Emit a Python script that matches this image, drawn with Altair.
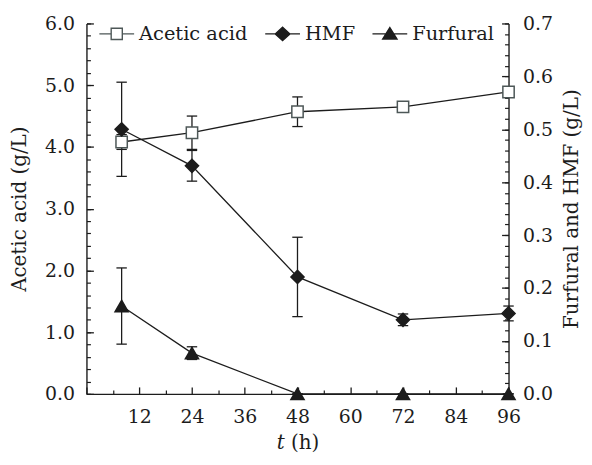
import altair as alt
import pandas as pd

# ---------------- data ----------------
t_hours = [8, 24, 48, 72, 96]
acetic = [4.08, 4.23, 4.57, 4.65, 4.89]
acetic_err = [0.12, 0.27, 0.24, 0.05, 0.05]
hmf = [0.500, 0.431, 0.221, 0.140, 0.152]
hmf_err = [0.089, 0.029, 0.075, 0.011, 0.014]
furfural = [0.166, 0.077, 0.0, 0.0, 0.0]
furfural_err = [0.072, 0.012, 0.0, 0.0, 0.0]

series_names = ["Acetic acid", "HMF", "Furfural"]

x_major = [12, 24, 36, 48, 60, 72, 84, 96]
x_minor = [6, 18, 30, 42, 54, 66, 78, 90]
left_major = [0, 1, 2, 3, 4, 5, 6]
left_minor = [round(i * 0.2, 2) for i in range(31)]
right_major = [0.0, 0.1, 0.2, 0.3, 0.4, 0.5, 0.6, 0.7]
right_minor = [round(i * 0.02, 3) for i in range(36)]

FONT = "DejaVu Serif"
INK = "#1c1c1c"
SQ = "#4d5757"
LABEL_SIZE = 19
TITLE_SIZE = 20

X_DOM = [0, 96]
L_DOM = [0, 6]
R_DOM = [0, 0.7]


def frame(vals, errs):
    return pd.DataFrame({
        "t": t_hours,
        "v": vals,
        "lo": [v - e for v, e in zip(vals, errs)],
        "hi": [v + e for v, e in zip(vals, errs)],
    })


df_a = frame(acetic, acetic_err)
df_h = frame(hmf, hmf_err)
df_f = frame(furfural, furfural_err)


def xenc(axis=None):
    return alt.X("t:Q", scale=alt.Scale(domain=X_DOM, nice=False, zero=False), axis=axis)


def yenc(field, dom, axis=None):
    return alt.Y(f"{field}:Q", scale=alt.Scale(domain=dom, nice=False, zero=False), axis=axis)


txt = dict(labelFont=FONT, labelFontSize=LABEL_SIZE, labelColor=INK,
           titleFont=FONT, titleFontSize=TITLE_SIZE, titleColor=INK,
           titleFontWeight="normal", grid=False, labelFlush=False)

x_label_axis = alt.Axis(orient="bottom", values=x_major, format="d", ticks=False,
                        domain=True, domainColor=INK, domainWidth=1.4,
                        labelPadding=14, title="𝑡 (h)", titlePadding=6, **txt)
x_major_axis = alt.Axis(orient="bottom", values=[0] + x_major, labels=False, domain=False,
                        ticks=True, tickSize=7, tickWidth=1.3, tickColor=INK,
                        offset=-7, title=None, grid=False)
x_minor_axis = alt.Axis(orient="bottom", values=x_minor, labels=False, domain=False,
                        ticks=True, tickSize=4, tickWidth=1.2, tickColor=INK,
                        offset=-4, title=None, grid=False)

l_label_axis = alt.Axis(orient="left", values=left_major, format=".1f", ticks=False,
                        domain=True, domainColor=INK, domainWidth=1.4,
                        labelPadding=12, title="Acetic acid (g/L)", titlePadding=15, **txt)
l_major_axis = alt.Axis(orient="left", values=left_major, labels=False, domain=False,
                        ticks=True, tickSize=7, tickWidth=1.3, tickColor=INK,
                        offset=-7, title=None, grid=False)
l_minor_axis = alt.Axis(orient="left", values=left_minor, labels=False, domain=False,
                        ticks=True, tickSize=4, tickWidth=1.2, tickColor=INK,
                        offset=-4, title=None, grid=False)

r_label_axis = alt.Axis(orient="right", values=right_major, format=".1f", ticks=False,
                        domain=True, domainColor=INK, domainWidth=1.4,
                        labelPadding=14, title="Furfural and HMF (g/L)", titleAngle=270,
                        titleBaseline="top", titlePadding=9, **txt)
r_major_axis = alt.Axis(orient="right", values=right_major, labels=False, domain=False,
                        ticks=True, tickSize=7, tickWidth=1.3, tickColor=INK,
                        offset=-7, title=None, grid=False)
r_minor_axis = alt.Axis(orient="right", values=right_minor, labels=False, domain=False,
                        ticks=True, tickSize=4, tickWidth=1.2, tickColor=INK,
                        offset=-4, title=None, grid=False)


def series_layers(df, dom, shape, fill, stroke, size,
                  ax_rule=(None, None), ax_lo=(None, None), ax_hi=(None, None)):
    rule = alt.Chart(df).mark_rule(color=INK, strokeWidth=1.3).encode(
        x=xenc(ax_rule[0]), y=yenc("lo", dom, ax_rule[1]), y2="hi:Q")
    cap_lo = alt.Chart(df).mark_point(shape="stroke", size=110, stroke=INK,
                                      strokeWidth=1.3, opacity=1).encode(
        x=xenc(ax_lo[0]), y=yenc("lo", dom, ax_lo[1]))
    cap_hi = alt.Chart(df).mark_point(shape="stroke", size=110, stroke=INK,
                                      strokeWidth=1.3, opacity=1).encode(
        x=xenc(ax_hi[0]), y=yenc("hi", dom, ax_hi[1]))
    line = alt.Chart(df).mark_line(color=INK, strokeWidth=1.3).encode(
        x=xenc(), y=yenc("v", dom))
    pts = alt.Chart(df).mark_point(shape=shape, size=size, fill=fill, stroke=stroke,
                                   strokeWidth=1.5, filled=True, opacity=1).encode(
        x=xenc(), y=yenc("v", dom))
    return [rule, cap_lo, cap_hi], [line], [pts]


a_err, a_line, a_pts = series_layers(
    df_a, L_DOM, "square", "white", SQ, 130,
    ax_rule=(x_label_axis, l_label_axis),
    ax_lo=(x_major_axis, l_major_axis),
    ax_hi=(x_minor_axis, l_minor_axis))
h_err, h_line, h_pts = series_layers(
    df_h, R_DOM, "diamond", INK, INK, 175,
    ax_rule=(None, r_label_axis),
    ax_lo=(None, r_major_axis),
    ax_hi=(None, r_minor_axis))
f_err, f_line, f_pts = series_layers(
    df_f, R_DOM, "triangle-up", INK, INK, 175)

# legend-only layer (points lie outside the x domain and are clipped away)
leg_df = pd.DataFrame({"series": series_names, "t": [-30, -30, -30], "v": [0, 0, 0]})
leg_shapes = [
    "M-1,0H-0.32M0.32,0H1M-0.32,-0.32H0.32V0.32H-0.32Z",
    "M-1,0H1M0,-0.38L0.42,0L0,0.38L-0.42,0Z",
    "M-1,0H1M0,-0.36L0.41,0.3L-0.41,0.3Z",
]
legend = alt.Legend(title=None, orient="none", direction="horizontal",
                    legendX=12, legendY=-8, labelFont=FONT, labelFontSize=19.5,
                    labelColor=INK, labelOffset=4, columnPadding=14,
                    symbolSize=1225, symbolStrokeWidth=1.4)
leg_layer = alt.Chart(leg_df).mark_point(size=1225, clip=True, opacity=1,
                                         strokeWidth=1.4, filled=True).encode(
    x=xenc(),
    y=yenc("v", [0, 1]),
    shape=alt.Shape("series:N", scale=alt.Scale(domain=series_names, range=leg_shapes),
                    legend=legend),
    fill=alt.Fill("series:N", scale=alt.Scale(domain=series_names,
                                              range=["white", INK, INK]), legend=legend),
    stroke=alt.Stroke("series:N", scale=alt.Scale(domain=series_names,
                                                  range=[SQ, INK, INK]), legend=legend),
)

layers = a_err + h_err + f_err + a_line + h_line + f_line + a_pts + h_pts + f_pts + [leg_layer]

chart = alt.layer(*layers).resolve_scale(
    y="independent"
).resolve_axis(
    x="independent", y="independent"
).properties(
    width=425, height=373,
    autosize=alt.AutoSizeParams(type="none"),
    padding={"left": 79, "top": 14, "right": 76, "bottom": 62},
    background="white",
).configure_view(stroke=None)

chart.save("out.html", embed_options={"renderer": "svg", "actions": False})
